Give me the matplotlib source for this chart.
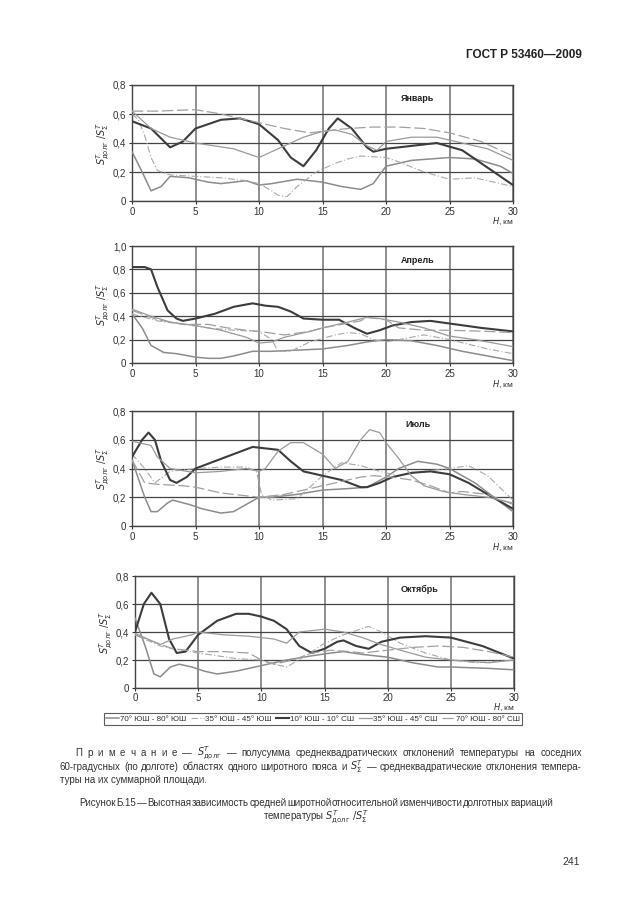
import matplotlib
matplotlib.use("Agg")
import matplotlib.pyplot as plt

plt.rcParams['font.family'] = ['Liberation Sans', 'DejaVu Sans']
plt.rcParams['mathtext.fontset'] = 'dejavusans'

# ---- data ----
# a: 10° ЮШ - 10° СШ, b: 35° ЮШ - 45° СШ, c: 70° ЮШ - 80° СШ,
# d: 35° ЮШ - 45° ЮШ, e: 70° ЮШ - 80° ЮШ
jan_a_h = [0, 1.5, 3, 4, 5, 7, 8.5, 10, 11.5, 12.5, 13.5, 14.5, 15.5, 16.2, 17.3, 18.5, 19, 20, 22, 24, 26, 28.5, 30]
jan_a_v = [0.55, 0.5, 0.37, 0.41, 0.5, 0.56, 0.57, 0.53, 0.42, 0.3, 0.24, 0.35, 0.5, 0.57, 0.5, 0.37, 0.34, 0.36, 0.38, 0.40, 0.35, 0.2, 0.11]
jan_b_h = [0, 1.5, 3, 5, 8, 10, 12, 13.5, 15, 16, 17.3, 18.5, 19.3, 20, 22, 24, 25, 28, 30]
jan_b_v = [0.62, 0.5, 0.44, 0.4, 0.36, 0.3, 0.38, 0.44, 0.48, 0.49, 0.46, 0.38, 0.35, 0.41, 0.44, 0.44, 0.42, 0.36, 0.28]
jan_c_h = [0, 2, 5, 7, 8.5, 10.5, 12, 14, 15, 17, 19, 21, 23, 25, 27.5, 30]
jan_c_v = [0.62, 0.62, 0.63, 0.6, 0.57, 0.53, 0.5, 0.47, 0.48, 0.5, 0.51, 0.51, 0.5, 0.47, 0.41, 0.31]
jan_d_h = [0, 0.5, 1, 1.5, 2, 3, 5, 7, 9, 10, 11, 11.5, 12.2, 13, 14.5, 16, 17, 18, 20, 21, 23, 25, 27, 29, 30]
jan_d_v = [0.6, 0.56, 0.45, 0.3, 0.21, 0.18, 0.17, 0.16, 0.14, 0.12, 0.07, 0.04, 0.03, 0.1, 0.2, 0.26, 0.29, 0.31, 0.3, 0.27, 0.2, 0.15, 0.16, 0.12, 0.1]
jan_e_h = [0, 0.8, 1.5, 2.3, 3, 4.5, 6, 7, 9, 10, 11, 13, 15, 16.5, 18, 19, 20, 22, 25, 27, 29, 30]
jan_e_v = [0.34, 0.2, 0.07, 0.1, 0.17, 0.16, 0.13, 0.12, 0.14, 0.11, 0.12, 0.15, 0.13, 0.1, 0.08, 0.12, 0.24, 0.28, 0.3, 0.29, 0.24, 0.19]

apr_a_h = [0, 1, 1.5, 2, 2.8, 3.5, 4, 5, 6.5, 8, 9.5, 10.5, 11.5, 12.5, 13.5, 15, 16.3, 17.5, 18.5, 19.5, 20.5, 22, 23.5, 25.5, 27.5, 30]
apr_a_v = [0.82, 0.82, 0.8, 0.65, 0.45, 0.38, 0.36, 0.38, 0.42, 0.48, 0.51, 0.49, 0.48, 0.44, 0.38, 0.37, 0.37, 0.3, 0.25, 0.28, 0.32, 0.35, 0.36, 0.33, 0.3, 0.27]
apr_b_h = [0, 1.5, 3, 5, 7, 9, 10, 11, 12, 14, 15, 17, 18.5, 19.5, 21, 23, 25, 27, 30]
apr_b_v = [0.46, 0.4, 0.35, 0.32, 0.28, 0.22, 0.17, 0.18, 0.22, 0.27, 0.3, 0.35, 0.39, 0.38, 0.35, 0.3, 0.23, 0.2, 0.14]
apr_c_h = [0, 2, 4, 6, 7.5, 9, 10, 12, 14, 15, 16, 18, 18.5, 20, 21, 23, 25, 28, 30]
apr_c_v = [0.45, 0.37, 0.33, 0.33, 0.3, 0.28, 0.27, 0.24, 0.27, 0.3, 0.32, 0.36, 0.39, 0.37, 0.3, 0.28, 0.28, 0.27, 0.26]
apr_d_h = [0, 2, 4, 6, 8, 10, 11, 11.5, 12.5, 14, 16, 17, 18, 19, 20, 21.5, 23, 25, 28, 30]
apr_d_v = [0.42, 0.36, 0.33, 0.3, 0.28, 0.27, 0.2, 0.1, 0.1, 0.18, 0.24, 0.26, 0.25, 0.2, 0.18, 0.21, 0.24, 0.2, 0.12, 0.08]
apr_e_h = [0, 0.8, 1.5, 2.5, 3.5, 5, 6, 7, 8, 9.5, 11, 13, 15, 17, 18.5, 20, 22, 24, 26, 28, 30]
apr_e_v = [0.42, 0.3, 0.15, 0.09, 0.08, 0.05, 0.04, 0.04, 0.06, 0.1, 0.1, 0.11, 0.12, 0.15, 0.18, 0.2, 0.19, 0.15, 0.1, 0.06, 0.02]

jul_a_h = [0, 0.8, 1.3, 1.8, 2.3, 3, 3.5, 4.3, 5, 6.5, 8, 9.5, 10.5, 11.5, 12.5, 13.5, 15, 16.5, 18, 18.5, 19.5, 20.5, 22, 23.5, 25, 26.5, 28, 30]
jul_a_v = [0.48, 0.6, 0.65, 0.6, 0.45, 0.32, 0.3, 0.34, 0.4, 0.45, 0.5, 0.55, 0.54, 0.53, 0.45, 0.38, 0.35, 0.32, 0.27, 0.27, 0.3, 0.34, 0.37, 0.38, 0.36, 0.3, 0.22, 0.12]
jul_b_h = [0, 1.5, 2, 3, 5, 7, 9, 10, 10.5, 11.5, 12.5, 13.5, 15, 16, 17, 18, 18.7, 19.5, 20, 21, 22, 23, 24.5, 26, 28, 30]
jul_b_v = [0.59, 0.56, 0.48, 0.4, 0.37, 0.38, 0.4, 0.38, 0.4, 0.52, 0.58, 0.58, 0.5, 0.4, 0.45, 0.6, 0.67, 0.65, 0.58, 0.47, 0.35, 0.28, 0.24, 0.22, 0.2, 0.16]
jul_c_h = [0, 1, 2, 4, 5, 7, 9, 10, 12, 14, 16, 18, 19, 20.5, 22, 23.5, 25, 26, 28, 30]
jul_c_v = [0.46, 0.3, 0.29, 0.28, 0.27, 0.23, 0.21, 0.2, 0.22, 0.26, 0.3, 0.34, 0.35, 0.34, 0.32, 0.28, 0.23, 0.24, 0.22, 0.15]
jul_d_h = [0, 1, 1.8, 3, 5, 7, 9, 9.8, 10.2, 11, 13, 15, 16.5, 18, 19.5, 21, 23, 25, 26.5, 28, 30]
jul_d_v = [0.5, 0.4, 0.3, 0.38, 0.4, 0.41, 0.41, 0.38, 0.22, 0.18, 0.19, 0.35, 0.44, 0.42, 0.38, 0.35, 0.38, 0.4, 0.42, 0.35, 0.18]
jul_e_h = [0, 1, 1.5, 2, 2.8, 3.2, 4.5, 5.5, 7, 8, 9, 10, 11, 13, 15, 17, 18.5, 20, 21, 22.5, 24, 25, 27, 28.5, 30]
jul_e_v = [0.46, 0.2, 0.1, 0.1, 0.16, 0.18, 0.15, 0.12, 0.09, 0.1, 0.15, 0.2, 0.2, 0.22, 0.25, 0.26, 0.27, 0.34, 0.4, 0.45, 0.43, 0.4, 0.3, 0.2, 0.1]

oct_a_h = [0, 0.7, 1.3, 2, 2.7, 3.3, 4, 5, 6.5, 8, 9, 10, 11, 12, 13, 14, 15, 16, 16.5, 17.5, 18.5, 19.5, 21, 23, 25, 27.5, 30]
oct_a_v = [0.4, 0.6, 0.68, 0.6, 0.35, 0.25, 0.26, 0.38, 0.48, 0.53, 0.53, 0.51, 0.48, 0.42, 0.3, 0.25, 0.28, 0.33, 0.34, 0.3, 0.28, 0.33, 0.36, 0.37, 0.36, 0.3, 0.21]
oct_b_h = [0, 1, 2, 3, 4.5, 5, 7, 9, 11, 12, 13, 15, 16.5, 18, 19.5, 21, 23, 25, 28, 30]
oct_b_v = [0.39, 0.35, 0.31, 0.35, 0.38, 0.4, 0.38, 0.37, 0.35, 0.32, 0.4, 0.42, 0.4, 0.36, 0.31, 0.27, 0.22, 0.2, 0.18, 0.2]
oct_c_h = [0, 1.5, 3, 5, 7, 9, 10, 11, 12.5, 14, 15.5, 17, 18, 20, 22, 24, 26, 28, 30]
oct_c_v = [0.38, 0.33, 0.28, 0.26, 0.26, 0.25, 0.2, 0.17, 0.2, 0.25, 0.27, 0.26, 0.25, 0.27, 0.29, 0.3, 0.29, 0.26, 0.22]
oct_d_h = [0, 2, 3, 5, 6.5, 8, 10, 11, 12, 13.5, 15, 16.5, 18.5, 19.5, 21, 23, 25, 27, 30]
oct_d_v = [0.38, 0.3, 0.28, 0.25, 0.23, 0.21, 0.2, 0.17, 0.15, 0.23, 0.32, 0.38, 0.44, 0.4, 0.32, 0.25, 0.2, 0.18, 0.2]
oct_e_h = [0, 0.8, 1.5, 2, 2.8, 3.5, 4.5, 5.5, 6.5, 8, 9.5, 10.5, 12, 14, 15.5, 16.5, 18, 20, 22, 24, 25, 28, 30]
oct_e_v = [0.5, 0.3, 0.1, 0.08, 0.15, 0.17, 0.15, 0.12, 0.1, 0.12, 0.15, 0.17, 0.2, 0.23, 0.25, 0.26, 0.24, 0.22, 0.18, 0.15, 0.15, 0.14, 0.13]

months = ['Январь', 'Апрель', 'Июль', 'Октябрь']
ymax = [0.8, 1.0, 0.8, 0.8]
labels = ['70° ЮШ - 80° ЮШ', '35° ЮШ - 45° ЮШ', '10° ЮШ - 10° СШ',
          '35° ЮШ - 45° СШ', '70° ЮШ - 80° СШ']

series = [
    [(jan_e_h, jan_e_v), (jan_d_h, jan_d_v), (jan_a_h, jan_a_v), (jan_b_h, jan_b_v), (jan_c_h, jan_c_v)],
    [(apr_e_h, apr_e_v), (apr_d_h, apr_d_v), (apr_a_h, apr_a_v), (apr_b_h, apr_b_v), (apr_c_h, apr_c_v)],
    [(jul_e_h, jul_e_v), (jul_d_h, jul_d_v), (jul_a_h, jul_a_v), (jul_b_h, jul_b_v), (jul_c_h, jul_c_v)],
    [(oct_e_h, oct_e_v), (oct_d_h, oct_d_v), (oct_a_h, oct_a_v), (oct_b_h, oct_b_v), (oct_c_h, oct_c_v)],
]

styles = [
    dict(color='#8c8c8c', lw=1.1, ls='-'),
    dict(color='#a8a8a8', lw=0.8, ls=(0, (6, 2, 1, 2))),
    dict(color='#3c3c3c', lw=1.5, ls='-'),
    dict(color='#9a9a9a', lw=0.9, ls='-'),
    dict(color='#a0a0a0', lw=0.9, ls=(0, (9, 3))),
]

W, H = 630, 913
# axes boxes in page pixels: left, right, top, bottom
boxes = [(132, 513, 85, 201), (132, 513, 246, 363), (132, 513, 411, 526), (135, 514, 576, 688)]
hlab_y = [221, 384, 547, 707]   # page-pixel height of the "H, км" labels
xpad = [1.5, 1.5, 1.5, 0.8]

fig = plt.figure(figsize=(W / 100, H / 100), dpi=100)
fig.patch.set_facecolor('white')
txt = '#333333'

def fx(px):
    return px / W

def fy(py):
    return 1 - py / H

handles = []
for i, (l, r, t, b) in enumerate(boxes):
    ax = fig.add_axes([fx(l), fy(b), (r - l) / W, (b - t) / H])
    for j, (h, v) in enumerate(series[i]):
        ln, = ax.plot(h, v, **styles[j], zorder=3)
        if i == 0:
            handles.append(ln)
    ax.set_xlim(0, 30)
    ax.set_ylim(0, ymax[i])
    ax.set_xticks(range(0, 31, 5))
    ax.set_xticklabels([str(k) for k in range(0, 31, 5)])
    yt = [k / 10 for k in range(0, int(ymax[i] * 10) + 1, 2)]
    ax.set_yticks(yt)
    ax.set_yticklabels(['0' if y == 0 else f'{y:.1f}'.replace('.', ',') for y in yt])
    ax.tick_params(labelsize=7, colors=txt, length=2.5, width=0.8, pad=1.5)
    ax.tick_params(axis='x', pad=xpad[i])
    ax.yaxis.grid(True, color='#444444', lw=0.9)
    ax.xaxis.grid(True, color='#707070', lw=1.1)
    ax.set_axisbelow(True)
    for s in ax.spines.values():
        s.set_color('#444444')
        s.set_linewidth(1.0)
    ax.set_ylabel(r'$S^{T}_{\mathrm{долг}}\ /S^{T}_{\Sigma}$', fontsize=7, color=txt, labelpad=1)
    fig.text(fx(r + 1), fy(hlab_y[i]), '$H$, км', ha='right', va='center',
             fontsize=6, color=txt)
    ax.text(0.75, 0.88, months[i], transform=ax.transAxes, ha='center', va='center',
            fontsize=6.5, fontweight='bold', color='#222222')

leg = fig.legend(handles, labels, loc='lower left', ncol=5, mode='expand',
                 bbox_to_anchor=(fx(104), fy(725), (522 - 104) / W, 12 / H),
                 fontsize=5.8, handlelength=1.6, handletextpad=0.1, columnspacing=0.2,
                 borderpad=0.25, borderaxespad=0, frameon=True, fancybox=False)
leg.get_frame().set_edgecolor('#333333')
leg.get_frame().set_linewidth(0.8)
for t in leg.get_texts():
    t.set_color(txt)

fig.text(fx(582), fy(55), 'ГОСТ Р 53460—2009', ha='right', va='center',
         fontsize=8.5, fontweight='bold', color='#222222')

fig.canvas.draw()
renderer = fig.canvas.get_renderer()

def justify(line, x0, x1, y, size=7):
    words = line.split(' ')
    items = [fig.text(0, fy(y), w, ha='left', va='center', fontsize=size, color=txt) for w in words]
    widths = [it.get_window_extent(renderer).width for it in items]
    gap = (x1 - x0 - sum(widths)) / max(len(items) - 1, 1)
    x = x0
    for it, w in zip(items, widths):
        it.set_x(fx(x))
        x += w + gap

justify(r'П р и м е ч а н и е — $S^{T}_{\mathrm{долг}}$ — полусумма среднеквадратических '
        r'отклонений температуры на соседних', 75, 582, 753)
justify(r'60-градусных (по долготе) областях одного широтного пояса и $S^{T}_{\Sigma}$ — '
        r'среднеквадратические отклонения темпера-', 60, 582, 767)
fig.text(fx(60), fy(780), 'туры на их суммарной площади.', ha='left', va='center',
         fontsize=7, color=txt)
justify('Рисунок Б.15 — Высотная зависимость средней широтной относительной изменчивости '
        'долготных вариаций', 79, 553, 803)
fig.text(fx(316), fy(817), r'температуры $S^{T}_{\mathrm{долг}}\ /S^{T}_{\Sigma}$', ha='center',
         va='center', fontsize=7, color=txt)
fig.text(fx(580), fy(862), '241', ha='right', va='center', fontsize=7.5, color=txt)

fig.savefig('out.png', dpi=100, facecolor='white')
